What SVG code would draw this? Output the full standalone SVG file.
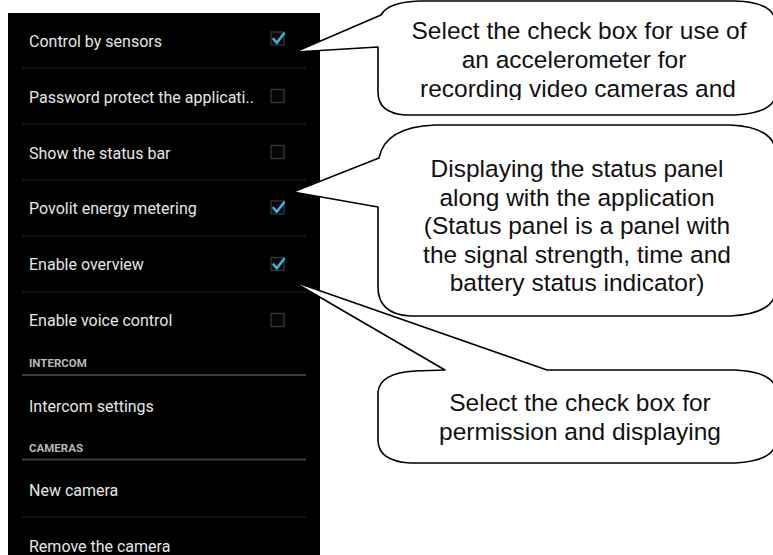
<svg xmlns="http://www.w3.org/2000/svg" width="773" height="555" viewBox="0 0 773 555">
<defs>
<style>
.item{font-family:Roboto,"Liberation Sans",sans-serif;font-size:16px;fill:#e6e6e6}
.hdr{font-family:Roboto,"Liberation Sans",sans-serif;font-size:11.5px;font-weight:bold;fill:#b8b8b8}
.sep{stroke:#232323;stroke-width:1.2}
.hsep{stroke:#3c3c3c;stroke-width:2}
.box{fill:#050505;stroke:#383838;stroke-width:1.3}
.chk{fill:none;stroke:#33b5e5;stroke-width:2.6;stroke-linecap:round;stroke-linejoin:round}
.bub{fill:#fff;stroke:#000;stroke-width:1.6;stroke-linejoin:round}
.bt{font-family:"Liberation Sans",Arial,sans-serif;font-size:24.5px;fill:#111;text-anchor:middle}
</style>
<clipPath id="c1"><rect x="378" y="0" width="400" height="100"/></clipPath>
</defs>
<rect width="773" height="555" fill="#fff"/>
<g id="panel">
<rect x="8" y="13" width="312" height="542" fill="#000"/>
<g id="row1"><text class="item" x="29" y="47">Control by sensors</text><rect class="box" x="271" y="32" width="13" height="13"/><path class="chk" d="M273.5,39 L276.8,42.8 L284,33.5"/></g>
<line class="sep" x1="22" y1="68" x2="306" y2="68"/>
<g id="row2"><text class="item" x="29" y="103">Password protect the applicati..</text><rect class="box" x="271" y="89.5" width="13" height="13"/></g>
<line class="sep" x1="22" y1="124" x2="306" y2="124"/>
<g id="row3"><text class="item" x="29" y="159">Show the status bar</text><rect class="box" x="271" y="145.5" width="13" height="13"/></g>
<line class="sep" x1="22" y1="180" x2="306" y2="180"/>
<g id="row4"><text class="item" x="29" y="214">Povolit energy metering</text><rect class="box" x="271" y="201" width="13" height="13"/><path class="chk" d="M273.5,208 L276.8,211.8 L284,202.5"/></g>
<line class="sep" x1="22" y1="236" x2="306" y2="236"/>
<g id="row5"><text class="item" x="29" y="270">Enable overview</text><rect class="box" x="271" y="257.5" width="13" height="13"/><path class="chk" d="M273.5,264.5 L276.8,268.3 L284,259"/></g>
<line class="sep" x1="22" y1="292" x2="306" y2="292"/>
<g id="row6"><text class="item" x="29" y="326">Enable voice control</text><rect class="box" x="271" y="313.5" width="13" height="13"/></g>
<g id="hdr1"><text class="hdr" x="29" y="367">INTERCOM</text><line class="hsep" x1="22" y1="375" x2="306" y2="375"/></g>
<g id="row7"><text class="item" x="29" y="412">Intercom settings</text></g>
<g id="hdr2"><text class="hdr" x="29" y="452">CAMERAS</text><line class="hsep" x1="22" y1="459.5" x2="306" y2="459.5"/></g>
<g id="row8"><text class="item" x="29" y="496">New camera</text></g>
<line class="sep" x1="22" y1="517" x2="306" y2="517"/>
<g id="row9"><text class="item" x="29" y="552">Remove the camera</text></g>
</g>
<g id="connectors"/>
<g id="callout1">
<path class="bub" d="M420,1 L735,1 Q776,2 776,25 L776,92 Q776,113 735,115 L405,115 Q378,113 378,92 L378,47 L295,52 L381,15 Q388,2 420,1 Z"/>
<g clip-path="url(#c1)">
<text class="bt" x="579" y="39">Select the check box for use of</text>
<text class="bt" x="574" y="68">an accelerometer for</text>
<text class="bt" x="578" y="97">recording video cameras and</text>
</g>
</g>
<g id="callout2">
<path class="bub" d="M435,125 L730,125 Q776,127 776,155 L776,288 Q776,314 730,316 L410,316 Q378,314 378,287 L378,207 L293,192 L379,158 Q385,127 435,125 Z"/>
<text class="bt" x="577" y="177">Displaying the status panel</text>
<text class="bt" x="577" y="205.5">along with the application</text>
<text class="bt" x="577" y="234">(Status panel is a panel with</text>
<text class="bt" x="577" y="262.5">the signal strength, time and</text>
<text class="bt" x="577" y="291">battery status indicator)</text>
</g>
<g id="callout3">
<path class="bub" d="M445,370 L292,281 L547,370 L735,370 Q776,372 776,392 L776,440 Q776,461 735,463 L410,463 Q378,461 378,440 L378,392 Q380,373 415,371 Z"/>
<text class="bt" x="580" y="411">Select the check box for</text>
<text class="bt" x="580" y="440">permission and displaying</text>
</g>
</svg>
